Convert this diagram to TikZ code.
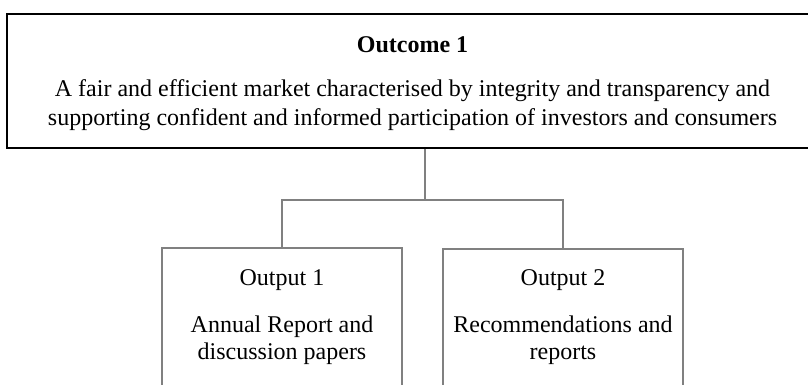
\documentclass[tikz,border=0pt]{standalone}
\usepackage{fontspec}
\setmainfont{Liberation Serif}
\begin{document}
\begin{tikzpicture}[x=1pt,y=1pt,
  topbox/.style={draw=black,line width=1.5pt,minimum width=811pt,minimum height=134pt,inner sep=0pt},
  outbox/.style={draw=black!50,line width=1.2pt,minimum width=240pt,minimum height=160pt,inner sep=0pt},
  conn/.style={draw=black!50,line width=1.2pt},
  txt/.style={anchor=base,inner sep=0pt,font=\fontsize{24}{28}\selectfont}]
\useasboundingbox (0,0) rectangle (808,-385);
\node[topbox] (top) at (412.5,-81) {};
\node[outbox] (o1) at (282,-328) {};
\node[outbox] (o2) at (563,-329) {};
\coordinate (hub) at (425,-200);
\node[txt,font=\fontsize{24}{28}\selectfont\bfseries] (t0) at (412.5,-53) {Outcome 1};
\node[txt] (t1) at (412.5,-97) {A fair and efficient market characterised by integrity and transparency and};
\node[txt] (t2) at (412.5,-125) {supporting confident and informed participation of investors and consumers};
\node[txt] (a0) at (282,-285) {Output 1};
\node[txt] (a1) at (282,-332) {Annual Report and};
\node[txt] (a2) at (282,-359) {discussion papers};
\node[txt] (b0) at (563,-285) {Output 2};
\node[txt] (b1) at (563,-332) {Recommendations and};
\node[txt] (b2) at (563,-359) {reports};
\draw[conn] (hub |- top.south) -- (hub);
\draw[conn] (o1.north) |- (hub) -| (o2.north);
\end{tikzpicture}
\end{document}
